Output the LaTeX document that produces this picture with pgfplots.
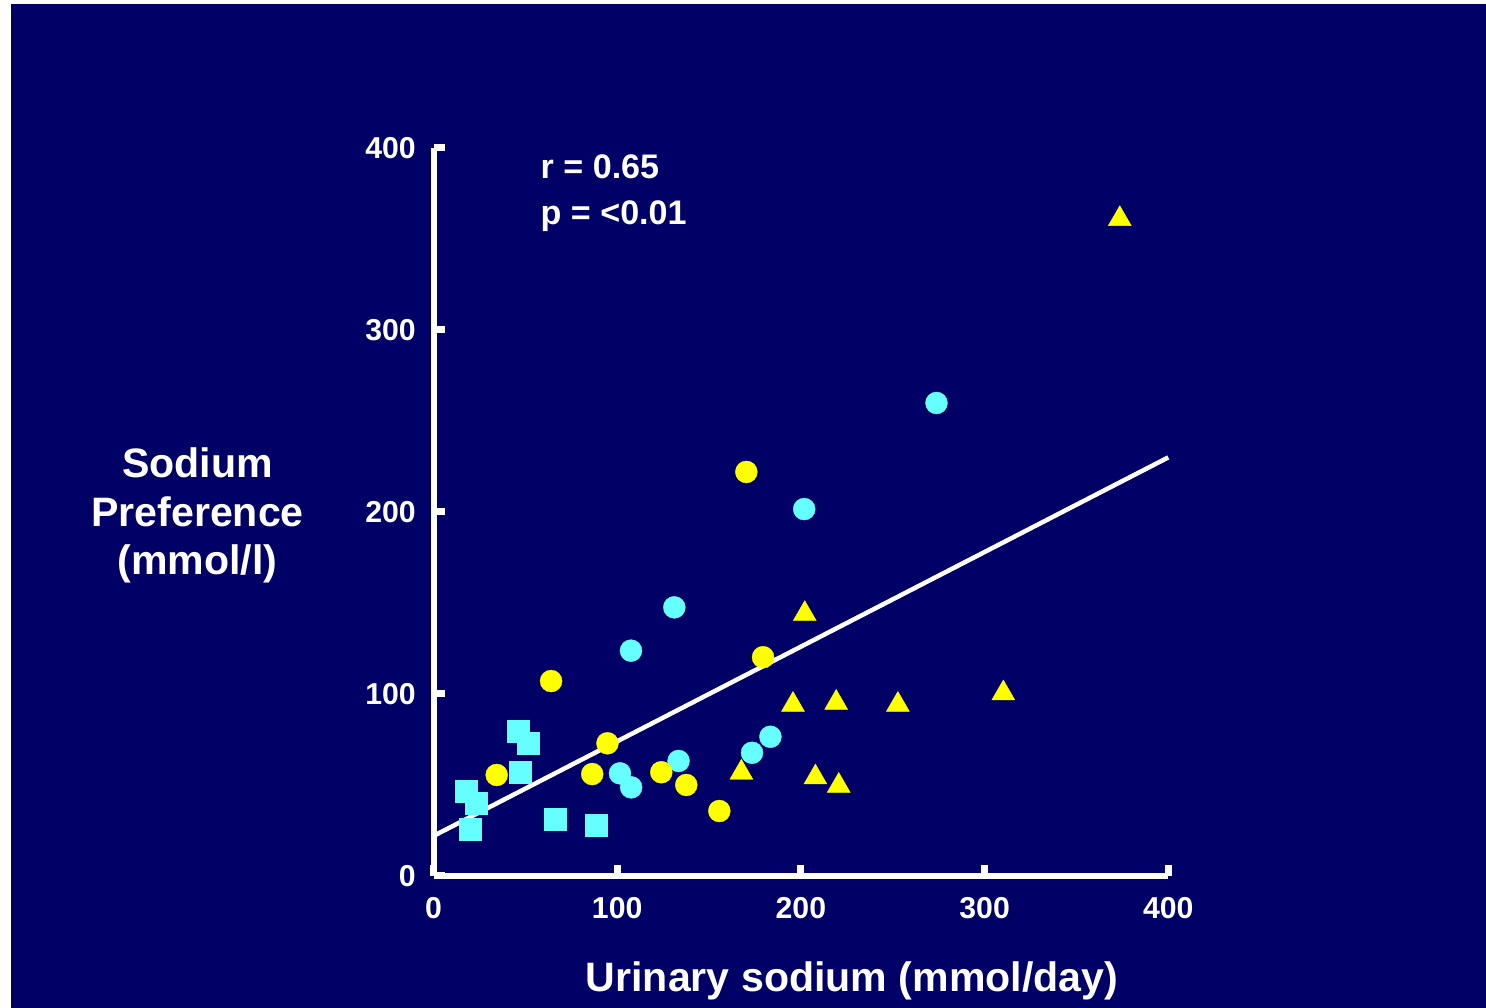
\documentclass[border=0pt]{standalone}
\usepackage{fontspec}
\setmainfont{Liberation Sans}
\usepackage{pgfplots}
\pgfplotsset{compat=1.18}
\definecolor{navy}{RGB}{0,0,102}
\definecolor{cyanc}{RGB}{102,255,255}
\definecolor{yell}{RGB}{255,255,0}
\begin{document}
\begin{tikzpicture}
\useasboundingbox (0,0) rectangle (148.6mm,100.8mm);
\fill[white] (0,0) rectangle (148.6mm,100.8mm);
\fill[navy] (1.1mm,0) rectangle (148.6mm,100.35mm);
\begin{axis}[
  at={(43.35mm,13.2mm)}, anchor=south west,
  scale only axis, width=73.48mm, height=72.8mm,
  xmin=0,xmax=400,ymin=0,ymax=400,
  axis x line=bottom, axis y line=left,
  axis line style={-, white, line width=0.6mm},
  xtick={0,100,200,300,400}, ytick={0,100,200,300,400},
  tick align=inside,
  major tick length=1.1mm,
  tick style={white, line width=0.7mm},
  ticklabel style={font=\fontsize{8.6}{10}\selectfont\bfseries, text=white},
  /pgf/number format/assume math mode=true,
  yticklabel style={inner sep=0pt, xshift=-1.7mm},
  xticklabel style={inner sep=0pt, yshift=-2.1mm},
  clip=false,
]
% cyan squares
\addplot[only marks, mark=square*, mark size=1.1mm, mark options={fill=cyanc, draw=cyanc, line width=0.1pt}] coordinates {
(17.6,46.8) (23.5,39.9) (19.9,25.5) (45.9,79.3) (51.6,72.8) (47.0,56.9) (66.1,31.0) (88.4,28.0)
};
% cyan circles
\addplot[only marks, mark=*, mark size=1.1mm, mark options={fill=cyanc, draw=cyanc, line width=0.1pt}] coordinates {
(101.5,56.4) (107.6,48.7) (133.4,63.2) (173.4,67.7) (183.4,76.5) (131.1,147.6) (107.5,123.8) (201.8,201.6) (273.8,259.9)
};
% yellow circles
\addplot[only marks, mark=*, mark size=1.1mm, mark options={fill=yell, draw=yell, line width=0.1pt}] coordinates {
(34.4,55.5) (86.4,56.0) (94.7,72.9) (124.0,57.0) (137.6,50.0) (155.6,35.7) (179.4,120.2) (170.3,222.0) (64.0,107.1)
};
% yellow triangles
\addplot[only marks, mark=triangle*, mark size=1.33mm, mark options={fill=yell, draw=yell, line width=0.1pt}] coordinates {
(167.6,56.8) (207.9,54.2) (220.6,49.6) (195.7,94.1) (219.2,95.2) (252.8,94.1) (310.2,100.4) (202.1,144.0) (373.6,361.0)
};
% regression line
\addplot[white, line width=0.45mm] coordinates {(0,22) (400,230)};
\end{axis}
\node[anchor=base west, text=white, font=\fontsize{9.7}{11}\selectfont\bfseries, inner sep=0pt] at (54.0mm,82.9mm) {r = 0.65};
\node[anchor=base west, text=white, font=\fontsize{9.7}{11}\selectfont\bfseries, inner sep=0pt] at (54.0mm,78.3mm) {p = <0.01};
\node[anchor=base, text=white, font=\fontsize{11.7}{14}\selectfont\bfseries, inner sep=0pt] at (85.2mm,1.6mm) {Urinary sodium (mmol/day)};
\node[anchor=base, text=white, font=\fontsize{11.7}{14}\selectfont\bfseries, inner sep=0pt] at (19.75mm,53.0mm) {Sodium};
\node[anchor=base, text=white, font=\fontsize{11.7}{14}\selectfont\bfseries, inner sep=0pt] at (19.75mm,48.1mm) {Preference};
\node[anchor=base, text=white, font=\fontsize{11.7}{14}\selectfont\bfseries, inner sep=0pt] at (19.75mm,43.3mm) {(mmol/l)};
\end{tikzpicture}
\end{document}
